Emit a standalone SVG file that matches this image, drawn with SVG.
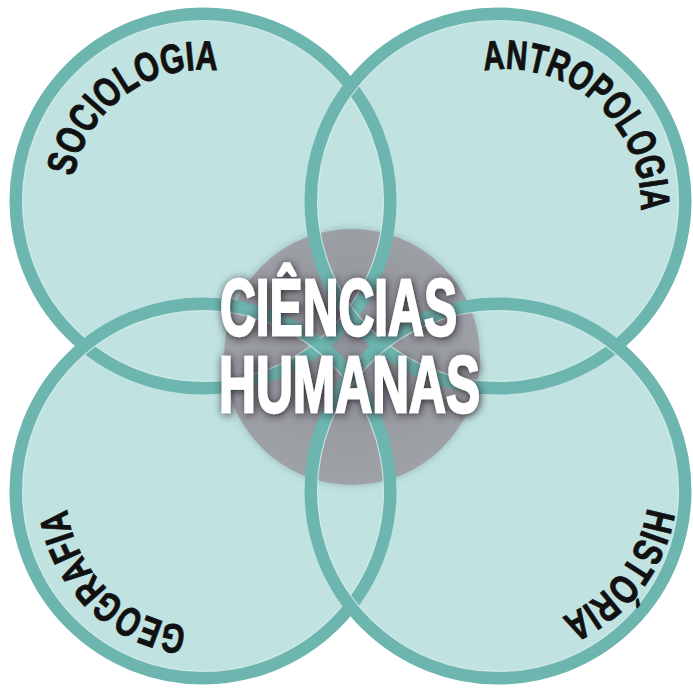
<svg xmlns="http://www.w3.org/2000/svg" width="693" height="690" viewBox="0 0 693 690">
<defs>
<style>
.fill{fill:#c0e3e2;stroke:none}
.ring{fill:none;stroke:#6db6b0;stroke-width:13}
.hl{fill:none;stroke:#e4f3f2;stroke-width:1.2;opacity:0.7}
.lbl{font-family:'Liberation Sans Narrow','Liberation Sans',Arial,sans-serif;font-weight:bold;font-size:41px;fill:#111;stroke:#111;stroke-width:0.9}
.ctr{font-family:'Liberation Sans Narrow','Liberation Sans',Arial,sans-serif;font-weight:bold;font-size:80px;fill:#fff;stroke:#fff;stroke-width:2.4}
</style>
<radialGradient id="gg" cx="0.5" cy="0.45" r="0.55">
<stop offset="0" stop-color="#8f9399"/>
<stop offset="1" stop-color="#9ea2a7"/>
</radialGradient>
<filter id="glow" x="-30%" y="-60%" width="160%" height="220%">
<feDropShadow dx="1" dy="1.5" stdDeviation="4.5" flood-color="#2a1f25" flood-opacity="0.95"/>
</filter>
<filter id="soft" x="-20%" y="-20%" width="140%" height="140%">
<feDropShadow dx="0" dy="0" stdDeviation="4" flood-color="#55606a" flood-opacity="0.35"/>
</filter>
<path id="pSoc" d="M73.9,176.7 A131,131 0 0 1 247.8,77.9"/>
<path id="pAnt" d="M484.2,70.6 A136,136 0 0 1 636.4,240.2"/>
<path id="pGeo" d="M186.8,626.2 A136,136 0 0 1 66.5,479.2"/>
<path id="pHis" d="M647.2,507.8 A144,144 0 0 1 530.0,626.8"/>
</defs>
<rect width="693" height="690" fill="#ffffff"/>
<g id="fills">
<circle class="fill" cx="203" cy="201" r="187"/>
<circle class="fill" cx="498" cy="201" r="187"/>
<circle class="fill" cx="203" cy="491" r="187"/>
<circle class="fill" cx="498" cy="491" r="187"/>
</g>
<circle cx="352" cy="357" r="128" fill="url(#gg)" filter="url(#soft)"/>
<g id="sociologia">
<circle class="ring" cx="203" cy="201" r="187"/>
<circle class="hl" cx="203" cy="201" r="180.5"/>
<text class="lbl"><textPath href="#pSoc" textLength="196" lengthAdjust="spacingAndGlyphs">SOCIOLOGIA</textPath></text>
</g>
<g id="antropologia">
<circle class="ring" cx="498" cy="201" r="187"/>
<circle class="hl" cx="498" cy="201" r="180.5"/>
<text class="lbl"><textPath href="#pAnt" textLength="240" lengthAdjust="spacingAndGlyphs">ANTROPOLOGIA</textPath></text>
</g>
<g id="geografia">
<circle class="ring" cx="203" cy="491" r="187"/>
<circle class="hl" cx="203" cy="491" r="180.5"/>
<text class="lbl"><textPath href="#pGeo" textLength="180" lengthAdjust="spacingAndGlyphs">GEOGRAFIA</textPath></text>
</g>
<g id="historia">
<circle class="ring" cx="498" cy="491" r="187"/>
<circle class="hl" cx="498" cy="491" r="180.5"/>
<text class="lbl"><textPath href="#pHis" textLength="145" lengthAdjust="spacingAndGlyphs">HISTÓRIA</textPath></text>
</g>
<g id="center" filter="url(#glow)">
<text class="ctr" x="220" y="335" textLength="237" lengthAdjust="spacingAndGlyphs">CIÊNCIAS</text>
<text class="ctr" x="219" y="412" textLength="261" lengthAdjust="spacingAndGlyphs">HUMANAS</text>
</g>
</svg>
